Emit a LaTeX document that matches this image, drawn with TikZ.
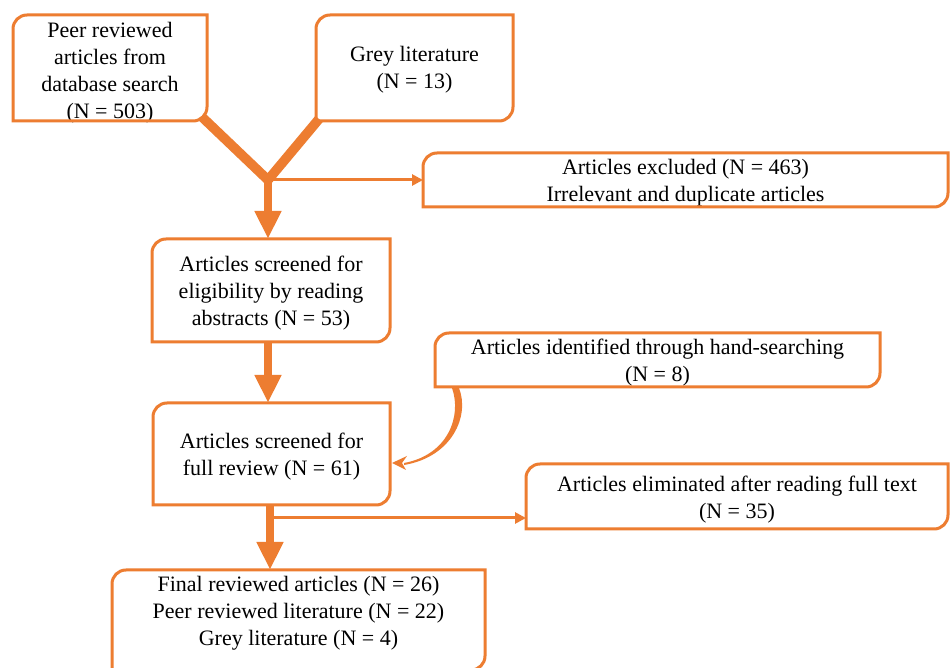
\documentclass[tikz,border=0pt]{standalone}
\usepackage{fontspec}
\setmainfont{Liberation Serif}
\usetikzlibrary{calc,arrows.meta}
\definecolor{org}{RGB}{237,125,49}
\newcommand\boxoutline[2][0pt]{%
  \draw[boxline] ([yshift=-#1]#2.south west) -- ([yshift=-7pt]#2.north west)
    .. controls ([yshift=-3.1pt]#2.north west) and ([xshift=3.1pt]#2.north west) .. ([xshift=7pt]#2.north west) -- (#2.north east)
    -- ([yshift={7pt-#1}]#2.south east)
    .. controls ([yshift={3.1pt-#1}]#2.south east) and ([xshift=-3.1pt,yshift=-#1]#2.south east) .. ([xshift=-7pt,yshift=-#1]#2.south east) -- cycle;}
\begin{document}
\begin{tikzpicture}[x=0.5pt,y=-0.5pt,
  txt/.style={align=center, font=\fontsize{11}{13.5}\selectfont, text=black, inner sep=0pt, outer sep=0pt},
  box/.style={inner sep=0pt, outer sep=0pt},
  boxline/.style={draw=org, line width=1.5pt},
  bigarrow/.style={draw=org, line width=4pt, -{Triangle[width=12.5pt,length=14pt]}},
  thinarrow/.style={draw=org, line width=1.5pt, -{Triangle[width=5.5pt,length=5.5pt]}},
  branch/.style={draw=org, line width=4.8pt}]
\useasboundingbox[fill=white] (0,0) rectangle (950,668);

\node[box, minimum width=97pt, minimum height=53pt] (peer) at (110,68) {};
\node[txt] at ($(peer.center)+(0,5)$) {Peer reviewed\\articles from\\database search\\(N = 503)};
\node[box, minimum width=98.5pt, minimum height=53pt] (grey) at (414.5,68) {};
\node[txt] at ($(grey.center)+(0,2)$) {Grey literature\\(N = 13)};
\node[box, minimum width=262.5pt, minimum height=27pt] (excl) at (685.5,180) {};
\node[txt] at ($(excl.center)+(0,3)$) {Articles excluded (N = 463)\\Irrelevant and duplicate articles};
\node[box, minimum width=119pt, minimum height=51.5pt] (scr) at (271,290.5) {};
\node[txt] at ($(scr.center)+(0,3)$) {Articles screened for\\eligibility by reading\\abstracts (N = 53)};
\node[box, minimum width=222.5pt, minimum height=27pt] (hand) at (657.5,360) {};
\node[txt] at ($(hand.center)+(0,3)$) {Articles identified through hand-searching\\(N = 8)};
\node[box, minimum width=118.5pt, minimum height=51pt] (full) at (271.5,454) {};
\node[txt] at ($(full.center)+(0,3)$) {Articles screened for\\full review (N = 61)};
\node[box, minimum width=211pt, minimum height=32.5pt] (elim) at (737,496.5) {};
\node[txt] at ($(elim.center)+(0,3)$) {Articles eliminated after reading full text\\(N = 35)};
\node[box, minimum width=186.5pt, minimum height=40pt] (final) at (298.5,610) {};
\node[txt] at ($(final.center)+(0,3)$) {Final reviewed articles (N = 26)\\Peer reviewed literature (N = 22)\\Grey literature (N = 4)};

\boxoutline{peer}
\boxoutline{grey}
\boxoutline{excl}
\boxoutline{scr}
\boxoutline{hand}
\boxoutline{full}
\boxoutline{elim}
\boxoutline[10pt]{final}

% merge of the two sources
\coordinate (J) at (268,180);
\coordinate (pstart) at ($(peer.south east)+(-5,-4)$);
\coordinate (gstart) at ($(grey.south west)+(3,-2)$);
\draw[branch, line join=round] (pstart) -- (J) -- (gstart);
\draw[bigarrow] ($(J)+(0,-3)$) -- (scr.north -| J);
\draw[thinarrow] (J) -- (excl.west);

% screened -> full
\draw[bigarrow] (scr.south -| J) -- (full.north -| J);

% hand-searching -> full (curved, tapered)
\coordinate (c1) at ($(hand.south west)+(17,1)$);
\coordinate (c2) at ($(hand.south west)+(24,1)$);
\coordinate (t) at ($(full.east)+(2,9)$);
\fill[org] (c2) .. controls +(11,28) and +(48,-8) .. ($(t)+(12,2)$)
  -- ($(t)+(12,0)$) .. controls +(44,-8) and +(10,28) .. (c1) -- cycle;
\fill[org] (t) -- ($(t)+(15,-7)$) -- ($(t)+(10,0)$) -- ($(t)+(14,7)$) -- cycle;

% full -> final and eliminated
\coordinate (K) at (270,518);
\draw[bigarrow] (full.south -| K) -- (final.north -| K);
\draw[thinarrow] (K) -- (K -| elim.west);
\end{tikzpicture}
\end{document}
